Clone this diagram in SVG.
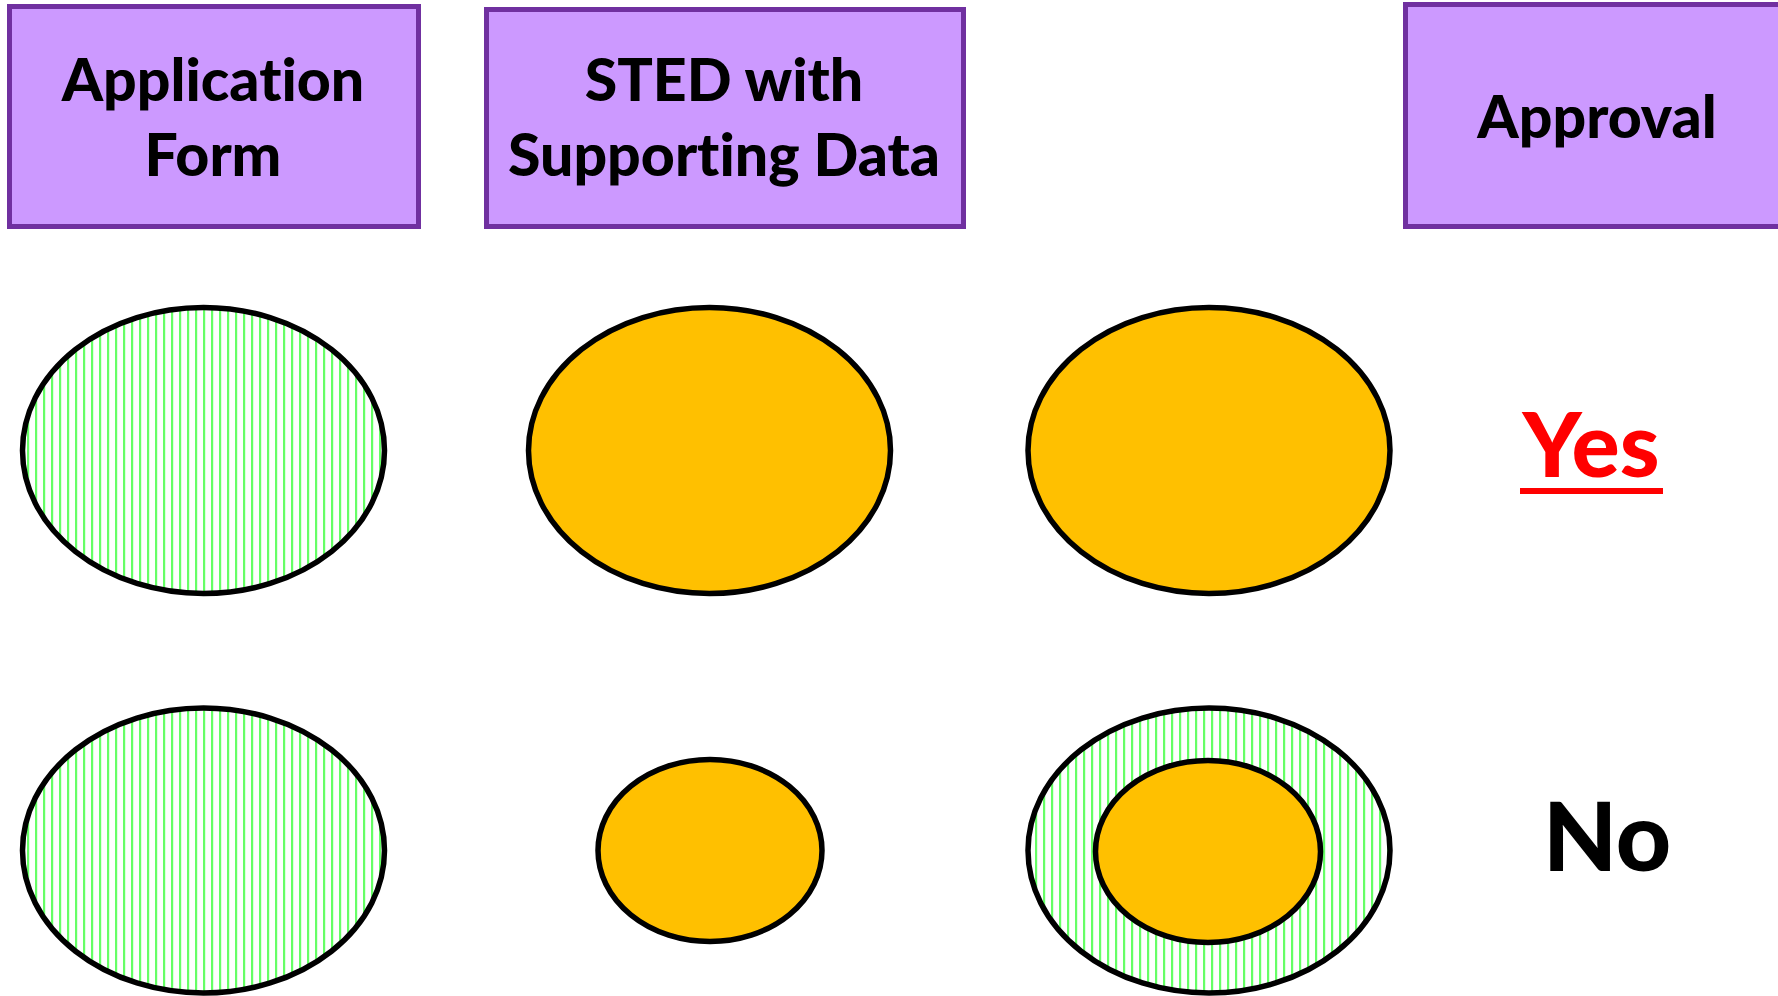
<svg xmlns="http://www.w3.org/2000/svg" width="1778" height="996" viewBox="0 0 1778 996">
  <style>
    .box { fill: #CC99FF; stroke: #7030A0; stroke-width: 5; }
    .lbl { font-family: Lato, "Open Sans", "Liberation Sans", sans-serif; font-weight: 900; font-size: 59px; fill: #000; text-anchor: middle; font-variant-ligatures: none; }
    .hatch { fill: url(#vlines); stroke: #000; stroke-width: 5.5; }
    .solid { fill: #FFC000; stroke: #000; stroke-width: 5.5; }
    .verdict { font-family: Lato, "Open Sans", "Liberation Sans", sans-serif; font-weight: 900; text-anchor: middle; font-variant-ligatures: none; }
  </style>
  <defs>
    <!-- thin vertical green stripes on white -->
    <pattern id="vlines" patternUnits="userSpaceOnUse" x="0" y="0" width="8" height="8">
      <rect width="8" height="8" fill="#FFFFFF"/>
      <rect x="3" y="0" width="2.2" height="8" fill="#66FF66"/>
    </pattern>
  </defs>
  <rect width="1778" height="996" fill="#FFFFFF"/>

  <!-- column headers -->
  <g id="header-application">
    <rect class="box" x="9.5" y="6.5" width="409" height="220"/>
    <text class="lbl" x="213" y="101">Application</text>
    <text class="lbl" x="213" y="176">Form</text>
  </g>
  <g id="header-sted">
    <rect class="box" x="486.5" y="9.5" width="477" height="217"/>
    <text class="lbl" x="724" y="101">STED with</text>
    <text class="lbl" x="724" y="176">Supporting Data</text>
  </g>
  <g id="header-approval">
    <rect class="box" x="1405.5" y="4.5" width="400" height="222"/>
    <text class="lbl" x="1597" y="138">Approval</text>
  </g>

  <!-- row 1 -->
  <g id="row1-form">
    <ellipse class="hatch" cx="203.5" cy="450.5" rx="181" ry="143"/>
  </g>
  <g id="row1-sted">
    <ellipse class="solid" cx="709.5" cy="450.5" rx="181" ry="143"/>
  </g>
  <g id="row1-review">
    <ellipse class="solid" cx="1209" cy="450.5" rx="181" ry="143"/>
  </g>
  <g id="row1-verdict">
    <text class="verdict" x="1591" y="477" font-size="90" fill="#FF0000">Yes</text>
    <rect x="1520" y="488" width="143" height="6" fill="#FF0000"/>
  </g>

  <!-- row 2 -->
  <g id="row2-form">
    <ellipse class="hatch" cx="203.5" cy="850.5" rx="181" ry="142.5"/>
  </g>
  <g id="row2-sted">
    <ellipse class="solid" cx="710" cy="850.5" rx="112" ry="91"/>
  </g>
  <g id="row2-review">
    <ellipse class="hatch" cx="1209" cy="850.5" rx="181" ry="142.5"/>
    <ellipse class="solid" cx="1208" cy="851.5" rx="112.5" ry="91"/>
  </g>
  <g id="row2-verdict">
    <text class="verdict" x="1607" y="871" font-size="96" fill="#000000">No</text>
  </g>

  <g id="connectors"/>
</svg>
